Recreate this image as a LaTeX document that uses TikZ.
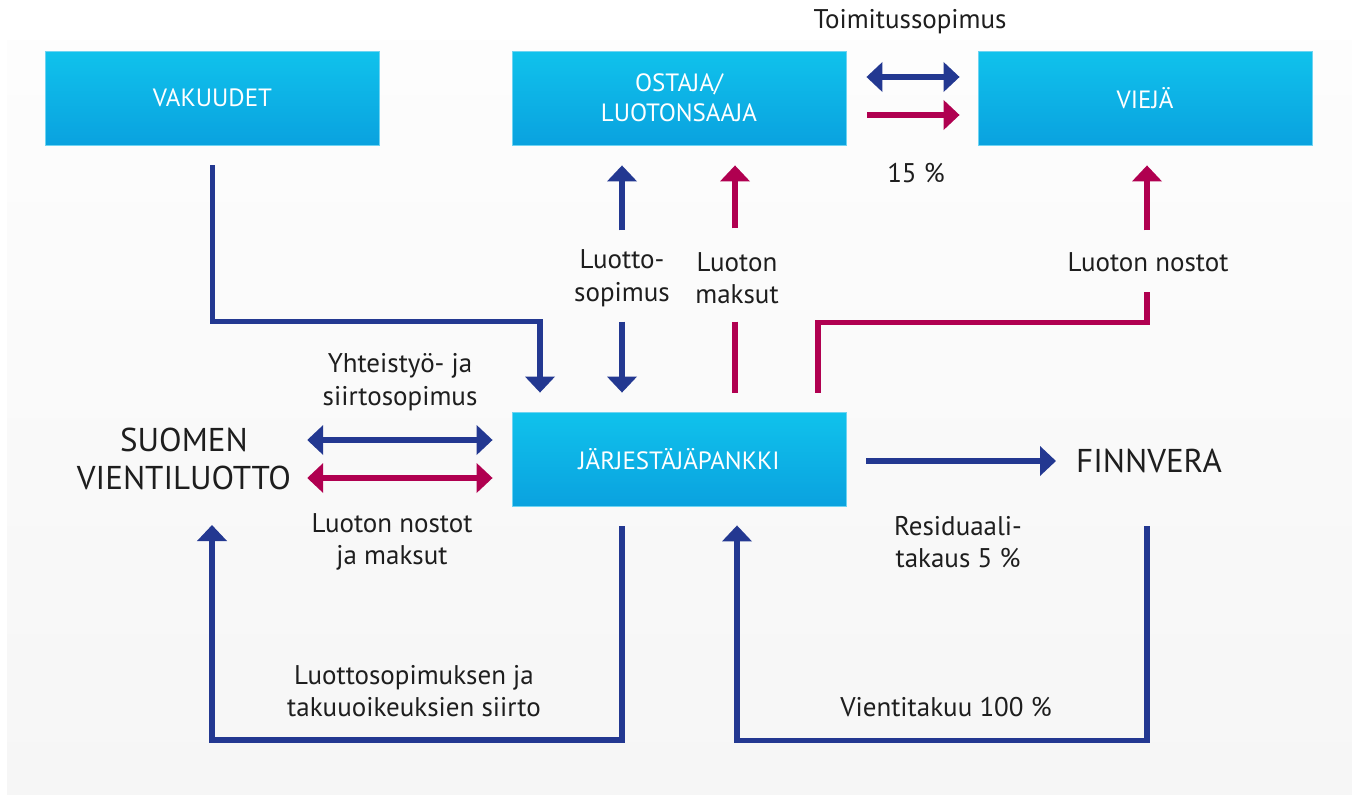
\documentclass[tikz,border=0pt]{standalone}
\usepackage{fontspec}
\setmainfont{PT Sans}
\usetikzlibrary{arrows.meta,calc}
\definecolor{fvblue}{RGB}{35,56,145}
\definecolor{fvred}{RGB}{176,0,80}
\definecolor{boxtop}{RGB}{16,194,236}
\definecolor{boxbot}{RGB}{10,162,223}
\definecolor{boxedge}{RGB}{110,212,242}
\definecolor{paneltop}{RGB}{253,253,253}
\definecolor{panelbot}{RGB}{246,246,246}
\definecolor{txt}{RGB}{30,30,30}
\begin{document}
\begin{tikzpicture}[x=1pt,y=-1pt,
  box/.style={rectangle, minimum width=334pt, minimum height=94pt, inner sep=0pt,
    top color=boxtop, bottom color=boxbot, draw=boxedge, line width=0.8pt,
    text=white, font=\fontsize{25}{30}\selectfont, align=center},
  lbl/.style={font=\fontsize{27}{32.5}\selectfont, align=center, text=txt, inner sep=0pt},
  big/.style={font=\fontsize{33}{38}\selectfont, align=center, text=txt, inner sep=0pt},
  flow/.style={line width=5.5pt},
  tip/.style={-{Triangle[width=29pt,length=16pt]}},
  tips/.style={{Triangle[width=29pt,length=16pt]}-{Triangle[width=29pt,length=16pt]}}
]
\useasboundingbox (0,0) rectangle (1352,795);
\fill[white] (0,0) rectangle (1352,795);
\shade[top color=paneltop, bottom color=panelbot] (7,40) rectangle (1352,795);

% boxes
\node[box] (vak) at (212.5,98) {VAKUUDET};
\node[box] (ost) at (679,98) {OSTAJA/\\LUOTONSAAJA};
\node[box] (vie) at (1145,98) {VIEJÄ};
\node[box] (bank) at (679,459) {JÄRJESTÄJÄPANKKI};

% big labels
\node[big] (suomen) at (184,459) {SUOMEN\\VIENTILUOTTO};
\node[big] (finn) at (1149,461) {FINNVERA};

% small labels
\node[lbl] (toim) at (910,22) {Toimitussopimus};
\node[lbl] (pct) at (916,173) {15 \%};
\node[lbl] (lsop) at (622,278) {Luotto-\\sopimus};
\node[lbl] (lmaks) at (737,278) {Luoton\\maksut};
\node[lbl] (lnost) at (1148,262) {Luoton nostot};
\node[lbl] (yht) at (400,382) {Yhteistyö- ja\\siirtosopimus};
\node[lbl] (lnm) at (392,542) {Luoton nostot\\ja maksut};
\node[lbl] (resid) at (958,542) {Residuaali-\\takaus 5 \%};
\node[lbl] (lsiirto) at (414,691) {Luottosopimuksen ja\\takuuoikeuksien siirto};
\node[lbl] (vtak) at (946,707) {Vientitakuu 100 \%};

% Toimitussopimus arrows
\draw[flow,fvblue,tips] ($(ost.east)+(20,-21)$) -- ($(vie.west)+(-18,-21)$);
\draw[flow,fvred,tip] ($(ost.east)+(21,17)$) -- ($(vie.west)+(-18,17)$);

% Vakuudet -> bank
\draw[flow,fvblue,tip] ($(vak.south)+(0,20)$) |- ($(bank.north)+(-139,-90)$) -- ($(bank.north)+(-139,-19)$);

% Luottosopimus
\draw[flow,fvblue,tip] ($(ost.south)+(-57,85)$) -- ($(ost.south)+(-57,20)$);
\draw[flow,fvblue,tip] ($(bank.north)+(-57,-90)$) -- ($(bank.north)+(-57,-19)$);

% Luoton maksut
\draw[flow,fvred,tip] ($(ost.south)+(56,83)$) -- ($(ost.south)+(56,20)$);
\draw[flow,fvred] ($(bank.north)+(56,-90)$) -- ($(bank.north)+(56,-19)$);

% Luoton nostot
\draw[flow,fvred] ($(bank.north)+(139,-19)$) |- ($(vie.south)+(2,177)$) -- ($(vie.south)+(2,147)$);
\draw[flow,fvred,tip] ($(vie.south)+(2,85)$) -- ($(vie.south)+(2,20)$);

% Suomen <-> bank
\draw[flow,fvblue,tips] ($(suomen.east)+(16,-19)$) -- ($(bank.west)+(-19,-19)$);
\draw[flow,fvred,tips] ($(suomen.east)+(16,19)$) -- ($(bank.west)+(-19,19)$);

% bank -> Finnvera
\draw[flow,fvblue,tip] ($(bank.east)+(20,2)$) -- ($(finn.west)+(-20,0)$);

% Finnvera -> bank (Vientitakuu)
\draw[flow,fvblue,tip] ($(finn.center)+(-2,65)$) |- ($(bank.south)+(58,234)$) -- ($(bank.south)+(58,19)$);

% bank -> Suomen (siirto)
\draw[flow,fvblue,tip] ($(bank.south)+(-57,20)$) |- ($(suomen.center)+(28,281)$) -- ($(suomen.center)+(28,66)$);
\end{tikzpicture}
\end{document}
